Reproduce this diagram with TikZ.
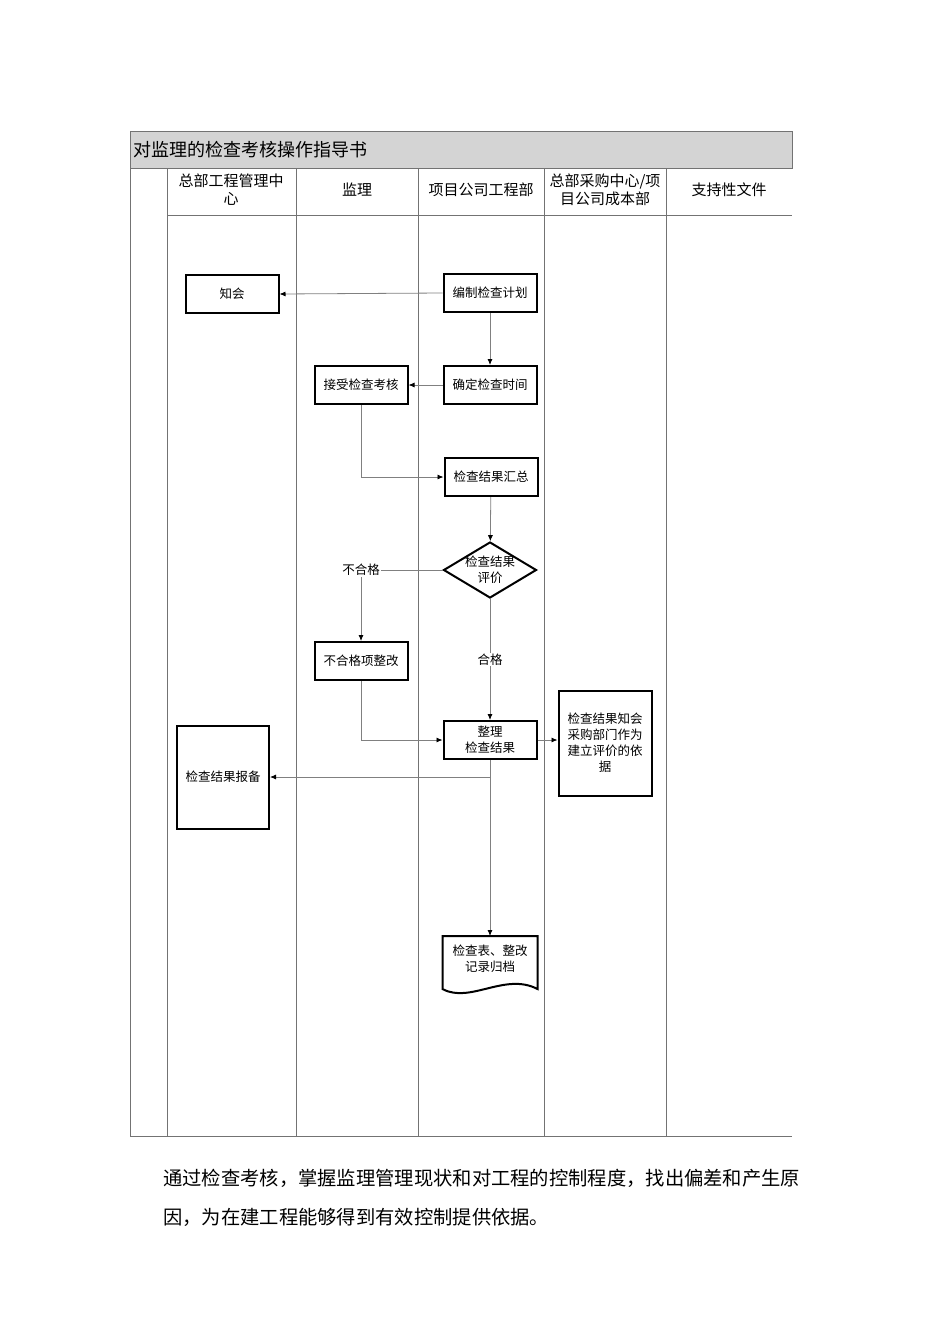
\documentclass[tikz,border=0pt]{standalone}
\usepackage{fontspec}
\setmainfont{Noto Sans CJK SC}
\usetikzlibrary{arrows.meta,shapes.geometric,calc}

\tikzset{
  tab/.style={draw=black!55,line width=1pt},
  head/.style={align=center,inner sep=0,font=\fontsize{15}{18}\selectfont},
  box/.style={draw,line width=2pt,fill=white,minimum width=93,minimum height=38,
    inner sep=0,align=center,font=\fontsize{12.5}{16}\selectfont},
  conn/.style={draw=black!50,line width=0.8pt,-{Latex[length=6pt,width=5pt,black]}},
  lbl/.style={fill=white,inner sep=1pt,font=\fontsize{12.5}{15}\selectfont}
}

\begin{document}
\begin{tikzpicture}[x=1pt,y=-1pt]
\useasboundingbox (0,0) rectangle (950,1344);

% table frame
\draw[tab,fill=black!17] (130,131) rectangle (792,168);
\draw[tab] (130,168) -- (130,1136) -- (792,1136);
\draw[tab] (167,215) -- (792,215);
\foreach \x in {167,296,418,544,666}
  \draw[tab] (\x,168) -- (\x,1136);

\node[anchor=west,inner sep=0,font=\fontsize{18}{20}\selectfont] (title) at (133,150) {对监理的检查考核操作指导书};

% lane heads
\node[head] (h1) at (231,190) {总部工程管理中\\心};
\node[head] (h2) at (357,190) {监理};
\node[head] (h3) at (481,190) {项目公司工程部};
\node[head] (h4) at (605,190) {总部采购中心/项\\目公司成本部};
\node[head] (h5) at (729,190) {支持性文件};

% steps
\node[box] (zh) at (232,294) {知会};
\node[box] (bzjh) at (490,293) {编制检查计划};
\node[box] (qdsj) at (490,385) {确定检查时间};
\node[box] (jsjc) at (361,385) {接受检查考核};
\node[box] (jghz) at (491,477) {检查结果汇总};
\node[draw,diamond,line width=2pt,fill=white,minimum width=93,minimum height=56,inner sep=0,
  label={[align=center,font=\fontsize{12.5}{16}\selectfont]center:{检查结果\\评价}}] (pj) at (490,570) {};
\node[box] (bhgzg) at (361,661) {不合格项整改};
\node[box] (zljg) at (490,740) {整理\\检查结果};
\node[box,minimum height=105] (zhcg) at (605,743) {检查结果知会\\采购部门作为\\建立评价的依\\据};
\node[box,minimum width=92,minimum height=103] (jgbb) at (223,777) {检查结果报备};
\node[box,draw=none,fill=none,minimum height=44] (gd) at (490,959) {检查表、整改\\记录归档};
\draw[line width=2pt] (gd.north west) -- (gd.north east) -- ($(gd.south east)+(0,7)$)
  .. controls ($(gd.south)+(15,-10)$) and ($(gd.south)+(-20,22)$) .. ($(gd.south west)+(0,7)$) -- cycle;

% flow
\draw[conn] (bzjh.west) -- (zh.east);
\draw[conn] (bzjh) -- (qdsj);
\draw[conn] (qdsj) -- (jsjc);
\draw[conn] (jsjc.south) |- (jghz.west);
\draw[conn] (jghz) -- (pj);
\draw[conn] (pj.west) -| node[lbl] {不合格} (bhgzg.north);
\draw[conn] (pj) -- node[lbl] {合格} (zljg);
\draw[conn] (bhgzg.south) |- (zljg.west);
\draw[conn] (zljg.east) -- (zljg.east -| zhcg.west);
\draw[conn] (zljg.south) |- (jgbb.east);
\draw[conn] (zljg) -- (gd);

% note below the table
\node[anchor=west,inner sep=0,font=\fontsize{19.3}{24}\selectfont] (note1) at (163,1178) {通过检查考核，掌握监理管理现状和对工程的控制程度，找出偏差和产生原};
\node[anchor=west,inner sep=0,font=\fontsize{19.3}{24}\selectfont] (note2) at (163,1217) {因，为在建工程能够得到有效控制提供依据。};
\end{tikzpicture}
\end{document}
